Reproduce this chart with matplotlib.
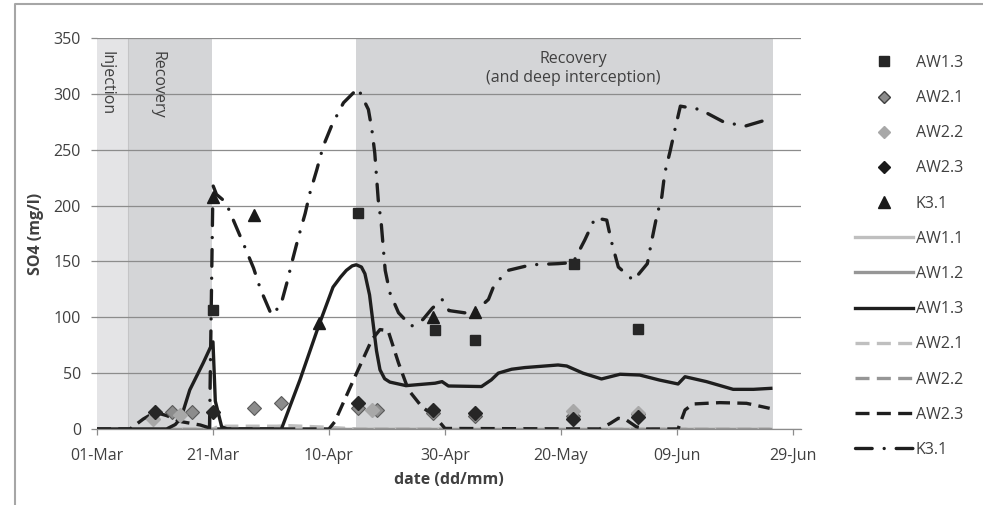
import datetime as dt

import matplotlib
matplotlib.use("Agg")
import matplotlib.pyplot as plt
import matplotlib.dates as mdates
import numpy as np
from matplotlib.lines import Line2D

plt.rcParams["font.family"] = ["Open Sans", "DejaVu Sans"]

# ---- data: days after 01-Mar, SO4 in mg/l --------------------------------
START = mdates.date2num(dt.datetime(2011, 3, 1))

# measured samples (markers)
aw13_pts_days = [20, 45, 58.2, 65.2, 82.2, 93.3]
aw13_pts_vals = [106.5, 193, 88.6, 80, 147.4, 89.5]
aw21_pts_days = [13, 16.3, 27, 31.8, 45, 48.2, 58, 65.2, 82, 93.3]
aw21_pts_vals = [15.5, 15.5, 18.5, 23, 18.5, 17, 14, 11.6, 12, 13]
aw22_pts_days = [9.7, 14.3, 47.4, 82, 93.3]
aw22_pts_vals = [8.7, 12.5, 17, 16, 14]
aw23_pts_days = [10, 20, 45, 58, 65.2, 82, 93.3]
aw23_pts_vals = [15.5, 15.5, 23, 17, 14.6, 8.7, 10.5]
k31_pts_days = [20, 27, 38.2, 58, 65.2]
k31_pts_vals = [208, 191.6, 94.5, 100, 105]

# modelled curves (lines)
aw11_days = [0, 40, 80, 116]
aw11_vals = [0, 0, 0, 0]
aw12_days = [0, 40, 80, 116]
aw12_vals = [0, 0, 0, 0]
aw13_days = [0, 12, 13.5, 14.5, 16, 18.3, 20, 20.4, 21.5, 22.5, 31.8, 35, 38.2,
             40.7, 42, 43, 44, 44.7, 45.6, 46.2, 47.0, 47.6, 48.2, 48.8, 49.6,
             50.5, 53.3, 58.3, 59.5, 60.6, 66.3, 68, 69.2, 71.5, 73.8, 79.5,
             81, 83.8, 87, 90.2, 93.6, 97, 100.2, 101.4, 105.1, 109.7, 113.2,
             116.2]
aw13_vals = [0, 0, 4, 10, 35, 59, 78, 25, 2, 0, 0, 44, 92,
             127, 136, 142, 146, 147, 145, 139, 120, 95, 70, 53, 45,
             42, 38.8, 41, 42.4, 38.5, 38, 44, 50, 53.5, 55, 57.3,
             56.4, 50, 44.8, 49, 48.3, 43.8, 40.3, 46.8, 42.4, 35.5, 35.5,
             36.4]
aw21_days = [0, 20, 21, 31, 33, 40, 45, 116]
aw21_vals = [0, 0, 2.5, 2.5, 3, 1.5, 0, 0]
aw22_days = [0, 40, 80, 116]
aw22_vals = [0, 0, 0, 0]
aw23_days = [0, 5.7, 8, 10, 12, 14.6, 17.8, 20, 40, 41, 44.5, 47.4, 48.8, 50.2,
             52, 53.7, 56, 58.3, 60, 86.7, 88.5, 89.9, 91.3, 93, 94.8, 100.2,
             101.4, 102.8, 107.4, 112, 116]
aw23_vals = [0, 0, 9, 15, 12, 6.5, 3.6, 0, 0, 6.5, 47, 80, 89, 88,
             59, 35, 20, 11, 0.5, 0, 5, 9.6, 8, 2, 0, 0,
             17, 22.4, 23.6, 23, 18.5]
k31_days = [19.4, 20.0, 20.6, 22.2, 24.0, 25.4, 27.0, 28.2, 30.1, 31.7, 32.7,
            33.7, 34.7, 35.9, 36.7, 37.9, 39.0, 40.5, 42.5, 45.0, 46.8, 47.4,
            47.9, 48.2, 48.5, 49.0, 49.4, 49.7, 50.5, 52.0, 54.2, 56.2, 57.8,
            59.5, 60.7, 63.4, 65.2, 67.5, 68.5, 70.9, 74.9, 79.5, 82.1, 84.1,
            85.9, 87.9, 88.7, 89.9, 92.5, 94.9, 95.6, 96.5, 97.4, 97.9, 98.8,
            99.7, 100.6, 104.0, 108.0, 111.7, 115.6]
k31_vals = [0, 218, 210, 203, 181, 164, 144, 125, 102, 111, 130,
            151, 171, 193, 211, 232, 253, 272, 292, 305, 286, 268,
            247, 226, 205, 185, 160, 142, 122, 104, 92, 98, 108,
            116, 106, 104, 105, 116, 129, 142, 147, 148, 149, 169,
            189, 187, 168, 145, 133, 148, 167, 190, 208, 229, 248,
            269, 289, 286, 275, 271, 277]

# phases (days after 01-Mar)
injection = (0, 5.3)
recovery = (5.3, 19.8)
recovery_deep = (44.7, 116.6)

C_LIGHT = "#bfbfbf"
C_MID = "#969696"
C_DARK = "#1e1e1e"
TXT = "#404040"
DASH = (0, (4.2, 2.2))
DASHDOT = (0, (5.0, 3.6, 0.01, 3.6))


def d(days):
    return START + np.asarray(days, dtype=float)


fig = plt.figure(figsize=(9.83, 5.05), dpi=100)
ax = fig.add_axes([97 / 983, 1 - 429 / 505, (801 - 97) / 983, (429 - 38) / 505])

# phase shading
ax.axvspan(*d(injection), color="#e4e4e6", lw=0, zorder=0.5)
ax.axvspan(*d(recovery), color="#d4d5d7", lw=0, zorder=0.5)
ax.axvspan(*d(recovery_deep), color="#d4d5d7", lw=0, zorder=0.5)
ax.axvline(d(injection)[1], color="#c4c4c6", lw=0.8, zorder=0.6)

ax.text(d(1.7), 338, "Injection", rotation=270, ha="center", va="top",
        fontsize=11.5, color=TXT)
ax.text(d(10.5), 338, "Recovery", rotation=270, ha="center", va="top",
        fontsize=11.5, color=TXT)
ax.text(d(82.2), 323, "Recovery\n(and deep interception)", ha="center",
        va="center", fontsize=11.5, color=TXT, linespacing=1.25)

# lines
lw = 2.4
ax.plot(d(aw11_days), aw11_vals, color=C_LIGHT, lw=lw, zorder=2)
ax.plot(d(aw12_days), aw12_vals, color=C_MID, lw=lw, zorder=2)
ax.plot(d(aw21_days), aw21_vals, color=C_LIGHT, lw=lw, ls=DASH, zorder=2.1)
ax.plot(d(aw22_days), aw22_vals, color=C_MID, lw=lw, ls=DASH, zorder=2.1)
ax.plot(d(aw23_days), aw23_vals, color=C_DARK, lw=lw, ls=DASH, zorder=2.2)
ax.plot(d(aw13_days), aw13_vals, color=C_DARK, lw=lw, zorder=2.3,
        solid_joinstyle="round")
ax.plot(d(k31_days), k31_vals, color=C_DARK, lw=2.4, ls=DASHDOT,
        dash_capstyle="round", zorder=2.4)

# markers
ms_kw = dict(ls="none", zorder=3)
ax.plot(d(aw21_pts_days), aw21_pts_vals, marker="D", ms=7.5, mfc="#8c8c8c",
        mec="#5a5a5a", mew=0.8, **ms_kw)
ax.plot(d(aw22_pts_days), aw22_pts_vals, marker="D", ms=7.5, mfc="#a8a8a8",
        mec="#a8a8a8", **ms_kw)
ax.plot(d(aw23_pts_days), aw23_pts_vals, marker="D", ms=7.5, mfc="#262626",
        mec="#262626", **ms_kw)
ax.plot(d(aw13_pts_days), aw13_pts_vals, marker="s", ms=7, color="#262626", **ms_kw)
ax.plot(d(k31_pts_days), k31_pts_vals, marker="^", ms=9, color="#1a1a1a", **ms_kw)

# axes
ax.set_xlim(d(0), d(121.4))
ax.set_ylim(0, 350)
ax.set_xticks(d(np.arange(0, 121, 20)))
ax.xaxis.set_major_formatter(mdates.DateFormatter("%d-%b"))
ax.set_yticks(np.arange(0, 351, 50))
ax.grid(axis="y", color="#8c8c8c", lw=0.9)
ax.set_axisbelow("line")
for s in ("top", "right", "left"):
    ax.spines[s].set_visible(False)
ax.spines["bottom"].set_color("#8c8c8c")
ax.spines["bottom"].set_linewidth(0.9)
ax.tick_params(axis="y", length=4.5, width=0.9, color="#8c8c8c", pad=7,
               labelsize=11.5, labelcolor=TXT)
ax.tick_params(axis="x", length=4.5, width=0.9, color="#8c8c8c", pad=9,
               labelsize=11.5, labelcolor=TXT)
ax.set_xlabel("date (dd/mm)", fontsize=11.5, fontweight="bold", color=TXT,
              labelpad=6)
ax.set_ylabel("SO4 (mg/l)", fontsize=11.5, fontweight="bold", color=TXT,
              labelpad=7)

# legend
handles = [
    Line2D([], [], ls="none", marker="s", ms=6.5, color="#262626"),
    Line2D([], [], ls="none", marker="D", ms=6.5, mfc="#8c8c8c", mec="#404040", mew=1),
    Line2D([], [], ls="none", marker="D", ms=6, mfc="#a8a8a8", mec="#a8a8a8"),
    Line2D([], [], ls="none", marker="D", ms=6.5, color="#1a1a1a"),
    Line2D([], [], ls="none", marker="^", ms=8, color="#1a1a1a"),
    Line2D([], [], color=C_LIGHT, lw=lw),
    Line2D([], [], color=C_MID, lw=lw),
    Line2D([], [], color=C_DARK, lw=lw),
    Line2D([], [], color=C_LIGHT, lw=lw, ls=DASH),
    Line2D([], [], color=C_MID, lw=lw, ls=DASH),
    Line2D([], [], color=C_DARK, lw=lw, ls=DASH),
    Line2D([], [], color=C_DARK, lw=2.4, ls=DASHDOT, dash_capstyle="round"),
]
labels = ["AW1.3", "AW2.1", "AW2.2", "AW2.3", "K3.1", "AW1.1", "AW1.2",
          "AW1.3", "AW2.1", "AW2.2", "AW2.3", "K3.1"]
leg = fig.legend(handles, labels, loc="upper left",
                 bbox_to_anchor=(855 / 983, 1 - 55 / 505), frameon=False,
                 fontsize=11.5, handlelength=3.6, handletextpad=0.2,
                 labelspacing=1.2, borderpad=0, borderaxespad=0)
for t in leg.get_texts():
    t.set_color(TXT)

# chart border
fig.add_artist(Line2D([15 / 983, 15 / 983, 1], [0, 1 - 4 / 505, 1 - 4 / 505],
                      transform=fig.transFigure, color="#a6a6a6", lw=1.5))

fig.savefig("out.png", dpi=100)
